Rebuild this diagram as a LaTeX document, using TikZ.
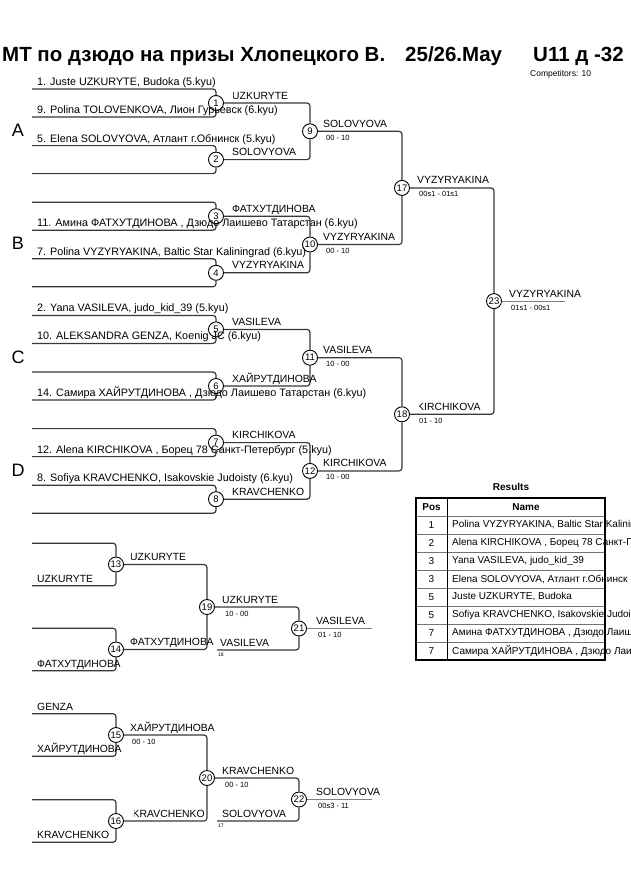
\documentclass[tikz,border=0pt]{standalone}
\usepackage{fontspec}
\setmainfont{Liberation Sans}
\begin{document}
\begin{tikzpicture}[x=1pt,y=-1pt,
  ln/.style={draw=black!78, line width=1.2pt, rounded corners=3pt},
  fin/.style={draw=black!50, line width=1.2pt},
  mc/.style={circle, draw=black, line width=0.9pt, fill=white, minimum size=15pt, inner sep=0pt, font=\fontsize{9.5}{9.5}\selectfont},
  nm/.style={anchor=base west, inner sep=0pt, font=\fontsize{10.4}{10.4}\selectfont},
  en/.style={anchor=base west, inner sep=0pt, font=\fontsize{10.8}{10.8}\selectfont},
  sc/.style={anchor=base west, inner sep=0pt, font=\fontsize{7.5}{7.5}\selectfont},
  tiny/.style={anchor=base west, inner sep=0pt, font=\fontsize{5}{5}\selectfont},
  grp/.style={inner sep=0pt, font=\fontsize{18}{18}\selectfont},
  ttl/.style={anchor=base west, inner sep=0pt, font=\fontsize{20.5}{20.5}\selectfont\bfseries},
  tb/.style={inner sep=0pt, font=\fontsize{10}{10}\selectfont},
  tbh/.style={inner sep=0pt, font=\fontsize{10}{10}\selectfont\bfseries}
]
\useasboundingbox (0,0) rectangle (630,891);
\clip (0,0) rectangle (630,891);
\fill[white] (0,0) rectangle (630,891);

% title
\node[ttl] (t1) at (2,62) {МТ по дзюдо на призы Хлопецкого В.};
\node[ttl] (t2) at (405,62) {25/26.May};
\node[ttl] (t3) at (533,62) {U11 д -32};
\node[anchor=base west, inner sep=0pt, font=\fontsize{8.5}{8.5}\selectfont] (t4) at (530,77) {Competitors: 10};

% group letters
\node[grp] (gA) at (18,130) {A};
\node[grp] (gB) at (18,243) {B};
\node[grp] (gC) at (18,357) {C};
\node[grp] (gD) at (18,470) {D};

% first round
\foreach \i in {1,...,8} {
  \pgfmathsetmacro\yt{89+56.6*(\i-1)}
  \node[mc] (m\i) at (216,\yt+14) {\i};
  \coordinate (a\i) at (32,\yt);
  \coordinate (b\i) at (32,\yt+28);
  \draw[ln] (a\i) -| (m\i);
  \draw[ln] (b\i) -| (m\i);
}
% later rounds
\node[mc] (m9)  at (310,131.3) {9};
\node[mc] (m10) at (310,244.5) {10};
\node[mc] (m11) at (310,357.7) {11};
\node[mc] (m12) at (310,470.9) {12};
\node[mc] (m17) at (402,187.9) {17};
\node[mc] (m18) at (402,414.3) {18};
\node[mc] (m23) at (494,301.1) {23};
\coordinate (fout) at (565,301.1);
\draw[ln] (m1) -| (m9);  \draw[ln] (m2) -| (m9);
\draw[ln] (m3) -| (m10); \draw[ln] (m4) -| (m10);
\draw[ln] (m5) -| (m11); \draw[ln] (m6) -| (m11);
\draw[ln] (m7) -| (m12); \draw[ln] (m8) -| (m12);
\draw[ln] (m9) -| (m17); \draw[ln] (m10) -| (m17);
\draw[ln] (m11) -| (m18); \draw[ln] (m12) -| (m18);
\draw[ln] (m17) -| (m23); \draw[ln] (m18) -| (m23);
\draw[fin] (m23) -- (fout);

% entry labels
\node[en] (e1a) at (37,85.5) {1. Juste UZKURYTE, Budoka (5.kyu)};
\node[en] (e1b) at (37,113.5) {9. Polina TOLOVENKOVA, Лион Гурьевск (6.kyu)};
\node[en] (e2a) at (37,142.1) {5. Elena SOLOVYOVA, Атлант г.Обнинск (5.kyu)};
\node[en] (e3b) at (37,226.7) {11. Амина ФАТХУТДИНОВА , Дзюдо Лаишево Татарстан (6.kyu)};
\node[en] (e4a) at (37,255.3) {7. Polina VYZYRYAKINA, Baltic Star Kaliningrad (6.kyu)};
\node[en] (e5a) at (37,311.9) {2. Yana VASILEVA, judo\_kid\_39 (5.kyu)};
\node[en] (e5b) at (37,339.9) {10. ALEKSANDRA GENZA, Koenig JC (6.kyu)};
\node[en] (e6b) at (37,396.5) {14. Самира ХАЙРУТДИНОВА , Дзюдо Лаишево Татарстан (6.kyu)};
\node[en] (e7b) at (37,453.1) {12. Alena KIRCHIKOVA , Борец 78 Санкт-Петербург (5.kyu)};
\node[en] (e8a) at (37,481.7) {8. Sofiya KRAVCHENKO, Isakovskie Judoisty (6.kyu)};

% round 1 winners
\begin{scope}
\clip (233.8,85) rectangle (300,102);
\node[nm] (w1) at (232,99) {UZKURYTE};
\end{scope}
\node[nm] (w2) at (232,155.6) {SOLOVYOVA};
\node[nm] (w3) at (232,212.2) {ФАТХУТДИНОВА};
\node[nm] (w4) at (232,268.8) {VYZYRYAKINA};
\node[nm] (w5) at (232,325.4) {VASILEVA};
\node[nm] (w6) at (232,382) {ХАЙРУТДИНОВА};
\node[nm] (w7) at (232,438.6) {KIRCHIKOVA};
\node[nm] (w8) at (232,495.2) {KRAVCHENKO};
% round 2
\node[nm] (w9)  at (323,127.3) {SOLOVYOVA};   \node[sc] (s9)  at (326,140.3) {00 - 10};
\node[nm] (w10) at (323,240.5) {VYZYRYAKINA}; \node[sc] (s10) at (326,253.5) {00 - 10};
\node[nm] (w11) at (323,353.7) {VASILEVA};    \node[sc] (s11) at (326,366.7) {10 - 00};
\node[nm] (w12) at (323,466.9) {KIRCHIKOVA};  \node[sc] (s12) at (326,479.9) {10 - 00};
% round 3
\node[nm] (w17) at (417,183.9) {VYZYRYAKINA}; \node[sc] (s17) at (419,196.9) {00s1 - 01s1};
\begin{scope}
\clip (419.5,398) rectangle (500,413);
\node[nm] (w18) at (417,410.3) {KIRCHIKOVA};
\end{scope}
\node[sc] (s18) at (419,423.3) {01 - 10};
% final
\node[nm] (w23) at (509,297.1) {VYZYRYAKINA}; \node[sc] (s23) at (511,310.1) {01s1 - 00s1};

% ---------- repechage ----------
\node[mc] (m13) at (116,564.5) {13};
\node[mc] (m14) at (116,649.5) {14};
\node[mc] (m15) at (116,735) {15};
\node[mc] (m16) at (116,821) {16};
\node[mc] (m19) at (207,607) {19};
\node[mc] (m20) at (207,778) {20};
\node[mc] (m21) at (299,628.5) {21};
\node[mc] (m22) at (299,799.5) {22};
\foreach \n/\y in {13/564.5,14/649.5,15/735,16/821} {
  \coordinate (ra\n) at (32,\y-21.3);
  \coordinate (rb\n) at (32,\y+21.3);
  \draw[ln] (ra\n) -| (m\n);
  \draw[ln] (rb\n) -| (m\n);
}
\draw[ln] (m13) -| (m19); \draw[ln] (m14) -| (m19);
\draw[ln] (m15) -| (m20); \draw[ln] (m16) -| (m20);
\coordinate (l21) at (217,650);
\coordinate (l22) at (217,821);
\draw[ln] (m19) -| (m21); \draw[ln] (l21) -| (m21);
\draw[ln] (m20) -| (m22); \draw[ln] (l22) -| (m22);
\coordinate (o21) at (372,628.5);
\coordinate (o22) at (372,799.5);
\draw[fin] (m21) -- (o21);
\draw[fin] (m22) -- (o22);

\node[nm] (r13b) at (37,582) {UZKURYTE};
\node[nm] (r14b) at (37,667) {ФАТХУТДИНОВА};
\node[nm] (r15a) at (37,710) {GENZA};
\node[nm] (r15b) at (37,752.5) {ХАЙРУТДИНОВА};
\node[nm] (r16b) at (37,838.5) {KRAVCHENKO};
\begin{scope}
\clip (131.8,548) rectangle (200,563);
\node[nm] (w13) at (130,560.5) {UZKURYTE};
\end{scope}
\node[nm] (w14) at (130,645.5) {ФАТХУТДИНОВА};
\node[nm] (w15) at (130,731) {ХАЙРУТДИНОВА}; \node[sc] (s15) at (132,744) {00 - 10};
\begin{scope}
\clip (134.5,805) rectangle (205,819);
\node[nm] (w16) at (132.5,817) {KRAVCHENKO};
\end{scope}
\node[nm] (w19) at (222,603) {UZKURYTE}; \node[sc] (s19) at (225,616) {10 - 00};
\node[nm] (q21) at (220,646) {VASILEVA}; \node[tiny] (q21n) at (218,656) {18};
\node[nm] (w21) at (316,624.5) {VASILEVA}; \node[sc] (s21) at (318,637.5) {01 - 10};
\node[nm] (w20) at (222,774) {KRAVCHENKO}; \node[sc] (s20) at (225,787) {00 - 10};
\node[nm] (q22) at (222,817) {SOLOVYOVA}; \node[tiny] (q22n) at (218,827) {17};
\node[nm] (w22) at (316,795.5) {SOLOVYOVA}; \node[sc] (s22) at (318,808.5) {00s3 - 11};

% ---------- results ----------
\node[tbh] (res) at (511,487) {Results};
\foreach \k in {1,...,8} {
  \draw[black!55, line width=0.9pt] (416,{516+18*(\k-1)}) -- (605,{516+18*(\k-1)});
}
\draw[black, line width=0.9pt] (447,498) -- (447,660);
\draw[black, line width=1.6pt] (416,498) rectangle (605,660);
\node[tbh] (hp) at (431.5,507) {Pos};
\node[tbh] (hn) at (526,507) {Name};
\foreach \k/\p/\t in {1/1/{Polina VYZYRYAKINA, Baltic Star Kaliningrad},
  2/2/{Alena KIRCHIKOVA , Борец 78 Санкт-Петербург},
  3/3/{Yana VASILEVA, judo\_kid\_39},
  4/3/{Elena SOLOVYOVA, Атлант г.Обнинск},
  5/5/{Juste UZKURYTE, Budoka},
  6/5/{Sofiya KRAVCHENKO, Isakovskie Judoisty},
  7/7/{Амина ФАТХУТДИНОВА , Дзюдо Лаишево Татарстан},
  8/7/{Самира ХАЙРУТДИНОВА , Дзюдо Лаишево Татарстан}} {
  \node[tb] (rp\k) at (431.5,{525+18*(\k-1)}) {\p};
  \node[tb, anchor=west] (rn\k) at (452,{525+18*(\k-1)}) {\t};
}
\end{tikzpicture}
\end{document}
